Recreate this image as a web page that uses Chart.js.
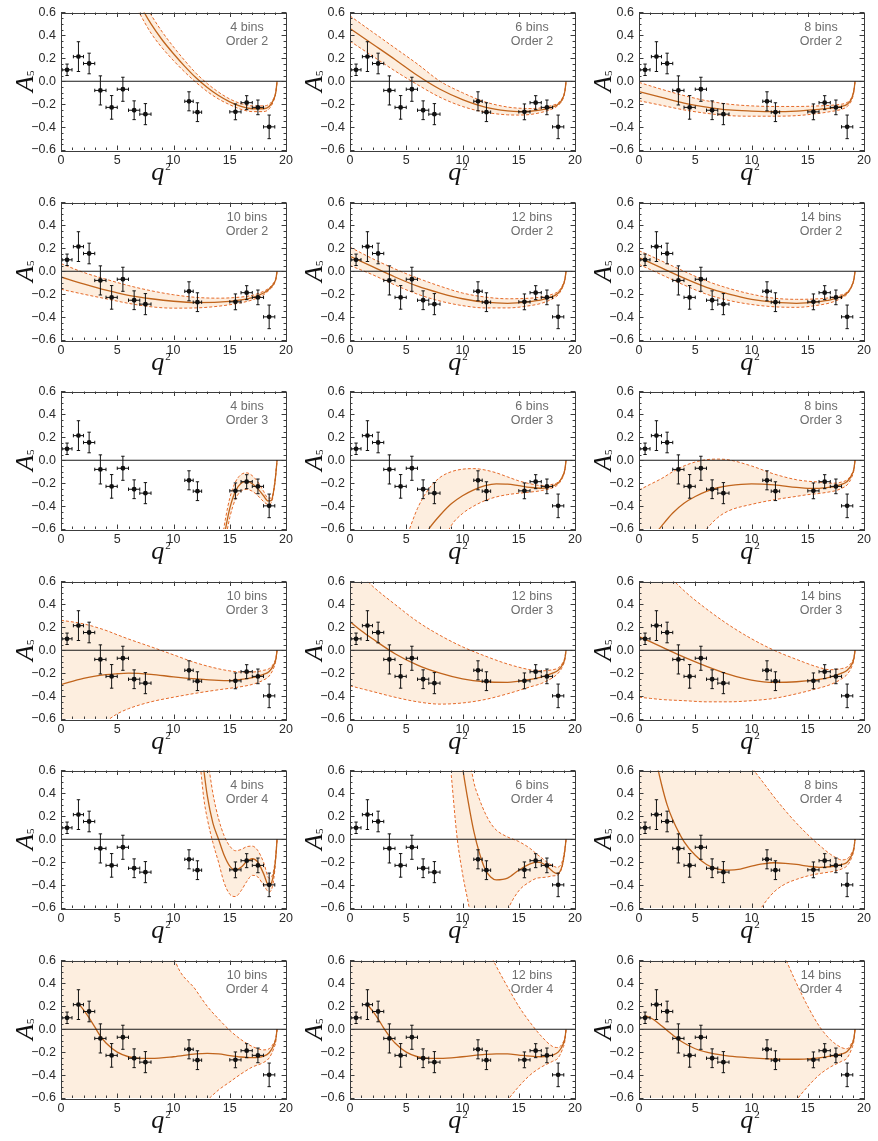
<!DOCTYPE html>
<html>
<head>
<meta charset="utf-8">
<script src="https://cdn.jsdelivr.net/npm/chart.js@4.4.1/dist/chart.umd.min.js"></script>
<style>
  body { margin: 0; background: #fff; }
  #grid { position: relative; width: 878px; height: 1141px; }
  #grid canvas { position: absolute; }
</style>
</head>
<body>
<div id="grid"></div>
<script>
// ---- measured A5 bins ----
const q2Center = [0.54, 1.55, 2.5, 3.5, 4.5, 5.5, 6.5, 7.5, 11.375, 12.125, 15.5, 16.5, 17.5, 18.5];
const q2Low    = [0.1, 1.1, 2, 3, 4, 5, 6, 7, 11, 11.75, 15, 16, 17, 18];
const q2High   = [0.98, 2, 3, 4, 5, 6, 7, 8, 11.75, 12.5, 16, 17, 18, 19];
const a5Value  = [0.10, 0.215, 0.155, -0.08, -0.228, -0.07, -0.253, -0.287, -0.175, -0.27, -0.267, -0.187, -0.228, -0.398];
const a5Error  = [0.05, 0.13, 0.09, 0.127, 0.103, 0.105, 0.082, 0.092, 0.083, 0.082, 0.069, 0.061, 0.064, 0.103];

// ---- panel captions ----
const panelBins  = [4, 6, 8, 10, 12, 14, 4, 6, 8, 10, 12, 14, 4, 6, 8, 10, 12, 14];
const panelOrder = [2, 2, 2, 2, 2, 2, 3, 3, 3, 3, 3, 3, 4, 4, 4, 4, 4, 4];

// ---- axis ticks ----
const xTickValues = [0, 5, 10, 15, 20];
const xTickLabels = ['0', '5', '10', '15', '20'];
const yTickValues = [-0.6, -0.4, -0.2, 0, 0.2, 0.4, 0.6];
const yTickLabels = ['\u22120.6', '\u22120.4', '\u22120.2', '0.0', '0.2', '0.4', '0.6'];

// ---- fitted curves (central value and 1 sigma band), one entry per panel ----
const gridA = [0, 2, 4, 6, 8, 10, 12, 14, 16, 17, 18, 18.5, 18.9, 19.1, 19.2];
const gridB = [0, 1, 2, 4, 6, 8, 10, 12, 14, 16, 17, 18, 18.5, 18.9, 19.1, 19.2];
const gridC = [0, 0.5, 1, 1.5, 2, 2.5, 3, 3.5, 4, 5, 6, 7, 8, 10, 12, 13, 14, 15, 16, 17, 18, 18.5, 18.9, 19.1, 19.2];

const fitQ2 = [
  [6, 7, 8, 9, 10, 11, 12, 13, 14, 15, 16, 17, 18, 18.5, 18.9, 19.1, 19.2],
  [0, 2, 4, 6, 8, 10, 12, 14, 15, 16, 17, 18, 18.5, 18.9, 19.1, 19.2],
  gridA,
  gridA,
  gridA,
  gridA,
  [14.3, 14.6, 15, 15.5, 16, 16.5, 17, 17.5, 18, 18.4, 18.7, 19.0, 19.1, 19.2],
  [5, 6, 7, 8, 9, 10, 11, 12, 13, 14, 15, 16, 17, 18, 18.5, 18.9, 19.1, 19.2],
  [0, 1, 2, 3, 4, 5, 6, 7, 8, 10, 12, 14, 15, 16, 17, 17.5, 18, 18.5, 18.9, 19.1, 19.2],
  [0, 2, 4, 5, 6, 8, 10, 12, 14, 15, 16, 17, 18, 18.5, 18.9, 19.1, 19.2],
  gridB,
  gridB,
  [12.3, 12.7, 13, 13.5, 14, 14.5, 15, 15.5, 16, 16.5, 17, 17.5, 18, 18.5, 18.8, 19.0, 19.1, 19.2],
  [9, 9.5, 10, 10.5, 11, 11.5, 12, 12.5, 13, 14, 15, 16, 16.6, 17, 17.5, 18, 18.4, 18.8, 19.0, 19.1, 19.2],
  [0, 1, 1.5, 2, 2.5, 3, 4, 5, 6, 7, 8, 9, 10, 11, 12, 13, 14, 15, 16, 17, 17.5, 18, 18.5, 18.9, 19.1, 19.2],
  gridC,
  gridC,
  gridC
];

const fitCentral = [
  [0.86, 0.67, 0.5, 0.36, 0.24, 0.13, 0.03, -0.055, -0.125, -0.18, -0.22, -0.24, -0.24, -0.22, -0.16, -0.09, 0],
  [0.46, 0.325, 0.19, 0.05, -0.07, -0.16, -0.225, -0.258, -0.265, -0.262, -0.25, -0.225, -0.2, -0.15, -0.085, 0],
  [-0.09, -0.14, -0.19, -0.225, -0.25, -0.26, -0.265, -0.26, -0.245, -0.235, -0.22, -0.2, -0.15, -0.08, 0],
  [-0.05, -0.11, -0.165, -0.21, -0.24, -0.262, -0.273, -0.27, -0.25, -0.23, -0.19, -0.155, -0.11, -0.065, 0],
  [0.13, 0.04, -0.05, -0.13, -0.19, -0.24, -0.27, -0.28, -0.265, -0.25, -0.22, -0.19, -0.13, -0.07, 0],
  [0.12, 0.03, -0.06, -0.14, -0.2, -0.245, -0.27, -0.28, -0.265, -0.25, -0.22, -0.19, -0.13, -0.07, 0],
  [-0.78, -0.61, -0.42, -0.27, -0.2, -0.185, -0.205, -0.25, -0.31, -0.355, -0.35, -0.2, -0.11, 0],
  [-0.95, -0.76, -0.6, -0.48, -0.38, -0.31, -0.258, -0.222, -0.206, -0.208, -0.222, -0.237, -0.245, -0.225, -0.2, -0.14, -0.08, 0],
  [-0.84, -0.7, -0.575, -0.46, -0.375, -0.316, -0.272, -0.24, -0.222, -0.207, -0.215, -0.237, -0.245, -0.245, -0.235, -0.225, -0.21, -0.185, -0.13, -0.075, 0],
  [-0.3, -0.245, -0.213, -0.205, -0.2, -0.21, -0.232, -0.25, -0.263, -0.265, -0.255, -0.238, -0.21, -0.185, -0.13, -0.075, 0],
  [0.25, 0.17, 0.1, -0.03, -0.13, -0.2, -0.25, -0.275, -0.28, -0.255, -0.235, -0.2, -0.175, -0.125, -0.07, 0],
  [0.12, 0.075, 0.03, -0.06, -0.14, -0.21, -0.26, -0.28, -0.275, -0.255, -0.235, -0.2, -0.175, -0.125, -0.07, 0],
  [0.95, 0.6, 0.38, 0.14, 0.0, -0.14, -0.235, -0.27, -0.245, -0.195, -0.17, -0.2, -0.3, -0.41, -0.35, -0.24, -0.14, 0],
  [1.5, 1.0, 0.63, 0.33, 0.07, -0.12, -0.26, -0.33, -0.355, -0.34, -0.27, -0.215, -0.2, -0.205, -0.235, -0.28, -0.3, -0.25, -0.16, -0.09, 0],
  [2.0, 1.0, 0.7, 0.48, 0.3, 0.17, -0.02, -0.14, -0.22, -0.26, -0.27, -0.26, -0.235, -0.215, -0.205, -0.21, -0.22, -0.235, -0.245, -0.24, -0.235, -0.22, -0.2, -0.14, -0.08, 0],
  [null, null, null, 0.23, 0.17, 0.1, 0.02, -0.06, -0.12, -0.2, -0.24, -0.255, -0.255, -0.24, -0.215, -0.21, -0.215, -0.23, -0.242, -0.248, -0.235, -0.205, -0.14, -0.08, 0],
  [null, null, null, 0.22, 0.16, 0.09, 0.01, -0.06, -0.12, -0.2, -0.24, -0.255, -0.255, -0.24, -0.22, -0.215, -0.215, -0.225, -0.235, -0.24, -0.225, -0.2, -0.14, -0.08, 0],
  [null, 0.12, 0.1, 0.07, 0.03, -0.01, -0.05, -0.09, -0.12, -0.17, -0.2, -0.22, -0.235, -0.25, -0.26, -0.262, -0.262, -0.258, -0.25, -0.235, -0.215, -0.195, -0.14, -0.08, 0]
];

const fitUpper = [
  [0.94, 0.75, 0.58, 0.43, 0.3, 0.18, 0.07, -0.02, -0.095, -0.155, -0.195, -0.215, -0.215, -0.2, -0.15, -0.085, 0],
  [0.57, 0.43, 0.29, 0.15, 0.0, -0.1, -0.18, -0.225, -0.235, -0.238, -0.232, -0.21, -0.19, -0.14, -0.08, 0],
  [-0.01, -0.07, -0.125, -0.17, -0.2, -0.215, -0.22, -0.22, -0.215, -0.21, -0.2, -0.185, -0.14, -0.075, 0],
  [0.067, -0.01, -0.07, -0.125, -0.17, -0.205, -0.228, -0.235, -0.225, -0.21, -0.175, -0.145, -0.1, -0.06, 0],
  [0.21, 0.11, 0.02, -0.06, -0.13, -0.19, -0.225, -0.24, -0.235, -0.225, -0.2, -0.175, -0.12, -0.065, 0],
  [0.18, 0.09, 0.0, -0.085, -0.15, -0.2, -0.235, -0.245, -0.24, -0.23, -0.205, -0.18, -0.125, -0.065, 0],
  [-0.7, -0.52, -0.33, -0.19, -0.125, -0.11, -0.135, -0.19, -0.27, -0.33, -0.33, -0.19, -0.1, 0],
  [-0.68, -0.42, -0.25, -0.15, -0.1, -0.078, -0.073, -0.085, -0.11, -0.145, -0.18, -0.205, -0.22, -0.21, -0.19, -0.135, -0.075, 0],
  [-0.26, -0.21, -0.16, -0.1, -0.05, -0.015, 0.005, 0.01, 0.003, -0.05, -0.12, -0.17, -0.183, -0.19, -0.2, -0.2, -0.19, -0.17, -0.12, -0.07, 0],
  [0.262, 0.23, 0.173, 0.135, 0.098, 0.03, -0.04, -0.11, -0.162, -0.18, -0.19, -0.19, -0.175, -0.16, -0.115, -0.065, 0],
  [0.75, 0.66, 0.56, 0.4, 0.25, 0.13, 0.03, -0.05, -0.12, -0.17, -0.18, -0.17, -0.155, -0.11, -0.06, 0],
  [0.95, 0.83, 0.72, 0.52, 0.36, 0.22, 0.1, 0.0, -0.08, -0.15, -0.17, -0.16, -0.145, -0.105, -0.06, 0],
  [1.3, 0.9, 0.72, 0.4, 0.18, 0.03, -0.06, -0.1, -0.09, -0.065, -0.06, -0.1, -0.2, -0.34, -0.31, -0.21, -0.12, 0],
  [2.0, 1.6, 1.2, 0.8, 0.5, 0.35, 0.23, 0.14, 0.08, 0.02, -0.02, -0.08, -0.13, -0.16, -0.2, -0.23, -0.245, -0.21, -0.14, -0.08, 0],
  [5, 4, 3.6, 3.2, 2.9, 2.6, 2.1, 1.7, 1.4, 1.15, 0.95, 0.78, 0.63, 0.5, 0.37, 0.25, 0.14, 0.04, -0.05, -0.13, -0.16, -0.18, -0.17, -0.12, -0.07, 0],
  [8, 7.4, 6.8, 6.2, 5.7, 5.2, 4.8, 4.4, 4.0, 3.3, 2.6, 2.1, 1.6, 0.64, 0.34, 0.2, 0.09, -0.01, -0.09, -0.15, -0.18, -0.17, -0.12, -0.07, 0],
  [9, 8.4, 7.8, 7.2, 6.6, 6.0, 5.5, 5.0, 4.5, 3.7, 3.0, 2.4, 1.9, 1.25, 0.75, 0.55, 0.37, 0.2, 0.06, -0.06, -0.15, -0.16, -0.12, -0.07, 0],
  [9, 8.4, 7.8, 7.2, 6.6, 6.0, 5.5, 5.0, 4.4, 3.6, 2.9, 2.3, 1.85, 1.5, 0.85, 0.62, 0.4, 0.2, 0.03, -0.09, -0.16, -0.17, -0.12, -0.07, 0]
];

const fitLower = [
  [0.78, 0.59, 0.42, 0.29, 0.18, 0.08, -0.01, -0.09, -0.155, -0.205, -0.245, -0.265, -0.265, -0.24, -0.17, -0.095, 0],
  [0.35, 0.22, 0.09, -0.03, -0.14, -0.22, -0.27, -0.293, -0.295, -0.29, -0.272, -0.24, -0.21, -0.16, -0.09, 0],
  [-0.17, -0.21, -0.25, -0.28, -0.3, -0.305, -0.305, -0.3, -0.28, -0.265, -0.245, -0.22, -0.165, -0.09, 0],
  [-0.157, -0.2, -0.24, -0.28, -0.31, -0.322, -0.32, -0.305, -0.275, -0.25, -0.205, -0.165, -0.12, -0.07, 0],
  [0.05, -0.03, -0.12, -0.2, -0.26, -0.3, -0.32, -0.32, -0.3, -0.28, -0.24, -0.205, -0.14, -0.075, 0],
  [0.06, -0.03, -0.12, -0.2, -0.255, -0.29, -0.31, -0.315, -0.295, -0.275, -0.235, -0.2, -0.135, -0.075, 0],
  [-0.86, -0.7, -0.5, -0.34, -0.27, -0.255, -0.27, -0.31, -0.36, -0.385, -0.37, -0.21, -0.115, 0],
  [-2.0, -1.5, -1.1, -0.78, -0.57, -0.465, -0.4, -0.352, -0.32, -0.3, -0.288, -0.278, -0.265, -0.24, -0.21, -0.15, -0.085, 0],
  [-2.0, -1.7, -1.4, -1.1, -0.88, -0.72, -0.6, -0.5, -0.44, -0.385, -0.345, -0.315, -0.3, -0.29, -0.275, -0.265, -0.245, -0.215, -0.15, -0.085, 0],
  [-0.9, -0.75, -0.62, -0.555, -0.51, -0.45, -0.41, -0.375, -0.345, -0.332, -0.318, -0.298, -0.26, -0.225, -0.155, -0.085, 0],
  [-0.31, -0.335, -0.36, -0.41, -0.45, -0.47, -0.46, -0.43, -0.38, -0.32, -0.29, -0.24, -0.2, -0.14, -0.08, 0],
  [-0.41, -0.42, -0.43, -0.44, -0.45, -0.45, -0.44, -0.42, -0.38, -0.33, -0.3, -0.25, -0.21, -0.145, -0.08, 0],
  [0.72, 0.35, 0.18, -0.03, -0.2, -0.38, -0.48, -0.5, -0.45, -0.37, -0.315, -0.33, -0.4, -0.46, -0.41, -0.27, -0.15, 0],
  [0.56, 0.03, -0.3, -0.55, -0.8, -0.98, -1.1, -1.05, -0.9, -0.62, -0.45, -0.37, -0.34, -0.335, -0.33, -0.32, -0.315, -0.26, -0.17, -0.1, 0],
  [-3, -3, -3, -3, -3, -3, -2.6, -2.2, -1.8, -1.5, -1.2, -0.95, -0.75, -0.58, -0.46, -0.39, -0.35, -0.32, -0.3, -0.285, -0.275, -0.26, -0.23, -0.16, -0.09, 0],
  [-8, -7.4, -6.8, -6.2, -5.7, -5.2, -4.8, -4.4, -4.0, -3.2, -2.6, -2.1, -1.7, -1.0, -0.72, -0.62, -0.53, -0.46, -0.39, -0.33, -0.29, -0.25, -0.17, -0.1, 0],
  [-9, -8.4, -7.8, -7.2, -6.6, -6.0, -5.5, -5.0, -4.5, -3.7, -3.0, -2.4, -1.9, -1.3, -0.9, -0.75, -0.62, -0.5, -0.4, -0.33, -0.28, -0.25, -0.17, -0.1, 0],
  [-9, -8.4, -7.8, -7.2, -6.6, -6.0, -5.5, -5.0, -4.4, -3.6, -2.9, -2.3, -1.85, -1.5, -0.95, -0.78, -0.62, -0.5, -0.4, -0.33, -0.28, -0.25, -0.17, -0.1, 0]
];

// ---- look ----
const CENTRAL_COLOR = '#c0641c';
const EDGE_COLOR = '#e56a2a';
const BAND_COLOR = '#fdeedf';
const FRAME_COLOR = '#3c3c3c';
const CAPTION_COLOR = '#6e6e6e';

// panel placement
const colLeft = [0, 289, 578];
const rowTop = [0, 190, 379, 569, 758, 948];
const PLOT_LEFT = 61;              // y axis band width
const qTitleX = [100, 108, 111];   // x-title centre, from plot left
const captionX = [186, 182, 182];

function pts(xs, ys) {
  return xs.map((x, k) => ({ x: x, y: ys[k] }));
}

// frame with inward ticks, error bars, axis titles, caption
function decorations(idx) {
  const col = idx % 3;
  return {
    id: 'decor' + idx,
    afterDatasetsDraw(chart) {
      const { ctx, scales: { x, y } } = chart;
      ctx.save();
      ctx.strokeStyle = '#111';
      ctx.fillStyle = '#111';
      ctx.lineWidth = 1;
      for (let k = 0; k < q2Center.length; k++) {
        const px = x.getPixelForValue(q2Center[k]);
        const py = y.getPixelForValue(a5Value[k]);
        const xl = x.getPixelForValue(q2Low[k]);
        const xh = x.getPixelForValue(q2High[k]);
        const yt = y.getPixelForValue(a5Value[k] + a5Error[k]);
        const yb = y.getPixelForValue(a5Value[k] - a5Error[k]);
        ctx.beginPath();
        ctx.moveTo(xl, py); ctx.lineTo(xh, py);
        ctx.moveTo(xl, py - 1.7); ctx.lineTo(xl, py + 1.7);
        ctx.moveTo(xh, py - 1.7); ctx.lineTo(xh, py + 1.7);
        ctx.moveTo(px, yt); ctx.lineTo(px, yb);
        ctx.moveTo(px - 1.7, yt); ctx.lineTo(px + 1.7, yt);
        ctx.moveTo(px - 1.7, yb); ctx.lineTo(px + 1.7, yb);
        ctx.stroke();
        ctx.beginPath();
        ctx.arc(px, py, 2.4, 0, Math.PI * 2);
        ctx.fill();
      }
      ctx.restore();
    },
    afterDraw(chart) {
      const { ctx, chartArea: a, scales: { x, y } } = chart;
      ctx.save();
      ctx.strokeStyle = FRAME_COLOR;
      ctx.lineWidth = 1;
      ctx.strokeRect(Math.round(a.left) + 0.5, Math.round(a.top) + 0.5,
                     Math.round(a.right - a.left), Math.round(a.bottom - a.top));
      ctx.beginPath();
      for (let v = 0; v <= 20; v++) {
        const len = v % 5 === 0 ? 4.5 : 2.5;
        const px = Math.round(x.getPixelForValue(v)) + 0.5;
        ctx.moveTo(px, a.bottom); ctx.lineTo(px, a.bottom - len);
        ctx.moveTo(px, a.top); ctx.lineTo(px, a.top + len);
      }
      for (let n = -12; n <= 12; n++) {
        const len = n % 4 === 0 ? 4.5 : 2.5;
        const py = Math.round(y.getPixelForValue(n * 0.05)) + 0.5;
        ctx.moveTo(a.left, py); ctx.lineTo(a.left + len, py);
        ctx.moveTo(a.right, py); ctx.lineTo(a.right - len, py);
      }
      ctx.stroke();

      // x title: q^2
      const tx = a.left + qTitleX[col];
      const ty = a.bottom + 30;
      ctx.fillStyle = '#111';
      ctx.textBaseline = 'alphabetic';
      ctx.font = 'italic 26px "Liberation Serif"';
      const qw = ctx.measureText('q').width;
      ctx.font = '11px "Liberation Serif"';
      const sw = ctx.measureText('2').width;
      const start = tx - (qw + sw + 1) / 2;
      ctx.font = 'italic 26px "Liberation Serif"';
      ctx.textAlign = 'left';
      ctx.fillText('q', start, ty);
      ctx.font = '11px "Liberation Serif"';
      ctx.fillText('2', start + qw + 1, ty - 10);

      // y title: A_5, rotated
      ctx.save();
      ctx.translate(a.left - 28, (a.top + a.bottom) / 2);
      ctx.rotate(-Math.PI / 2);
      ctx.font = 'italic 26px "Liberation Serif"';
      const aw = ctx.measureText('A').width;
      ctx.font = '11px "Liberation Serif"';
      const fw = ctx.measureText('5').width;
      const s0 = -(aw + fw) / 2;
      ctx.font = 'italic 26px "Liberation Serif"';
      ctx.fillText('A', s0, 0);
      ctx.font = '11px "Liberation Serif"';
      ctx.fillText('5', s0 + aw, 1);
      ctx.restore();

      // caption
      ctx.fillStyle = CAPTION_COLOR;
      ctx.font = '12.5px "Liberation Sans"';
      ctx.textAlign = 'center';
      ctx.textBaseline = 'middle';
      ctx.fillText(panelBins[idx] + ' bins', a.left + captionX[col], a.top + 15);
      ctx.fillText('Order ' + panelOrder[idx], a.left + captionX[col], a.top + 29);
      ctx.restore();
    }
  };
}

const grid = document.getElementById('grid');

for (let i = 0; i < 18; i++) {
  const row = Math.floor(i / 3);
  const col = i % 3;
  const canvas = document.createElement('canvas');
  canvas.width = 296;
  canvas.height = 190;
  canvas.style.left = colLeft[col] + 'px';
  canvas.style.top = rowTop[row] + 'px';
  grid.appendChild(canvas);

  new Chart(canvas, {
    type: 'line',
    data: {
      datasets: [
        {
          data: pts([0, 20], [0, 0]),
          borderColor: '#1a1a1a',
          borderWidth: 1,
          pointRadius: 0
        },
        {
          data: pts(fitQ2[i], fitCentral[i]),
          borderColor: CENTRAL_COLOR,
          borderWidth: 1.3,
          pointRadius: 0,
          cubicInterpolationMode: 'monotone'
        },
        {
          data: pts(fitQ2[i], fitUpper[i]),
          borderColor: EDGE_COLOR,
          borderWidth: 1,
          borderDash: [3, 2],
          pointRadius: 0,
          cubicInterpolationMode: 'monotone'
        },
        {
          data: pts(fitQ2[i], fitLower[i]),
          borderColor: EDGE_COLOR,
          borderWidth: 1,
          borderDash: [3, 2],
          pointRadius: 0,
          cubicInterpolationMode: 'monotone',
          fill: '-1',
          backgroundColor: BAND_COLOR
        }
      ]
    },
    options: {
      responsive: false,
      animation: false,
      devicePixelRatio: 1,
      events: [],
      layout: { padding: { top: 6, right: 3, left: 0, bottom: 0 } },
      plugins: { legend: { display: false }, tooltip: { enabled: false } },
      scales: {
        x: {
          type: 'linear',
          min: 0,
          max: 20,
          afterBuildTicks: s => { s.ticks = xTickValues.map(v => ({ value: v })); },
          afterFit: s => { s.height = 40; },
          grid: { display: false, drawTicks: false },
          border: { display: false },
          ticks: {
            padding: 3,
            color: '#2a2a2a',
            font: { family: 'Liberation Sans', size: 12.5 },
            maxRotation: 0,
            callback: (v, k) => xTickLabels[k]
          }
        },
        y: {
          type: 'linear',
          min: -0.6,
          max: 0.6,
          afterBuildTicks: s => { s.ticks = yTickValues.map(v => ({ value: v })); },
          afterFit: s => { s.width = PLOT_LEFT; },
          grid: { display: false, drawTicks: false },
          border: { display: false },
          ticks: {
            padding: 5,
            color: '#2a2a2a',
            font: { family: 'Liberation Sans', size: 12.5 },
            callback: (v, k) => yTickLabels[k]
          }
        }
      }
    },
    plugins: [decorations(i)]
  });
}
</script>
</body>
</html>
